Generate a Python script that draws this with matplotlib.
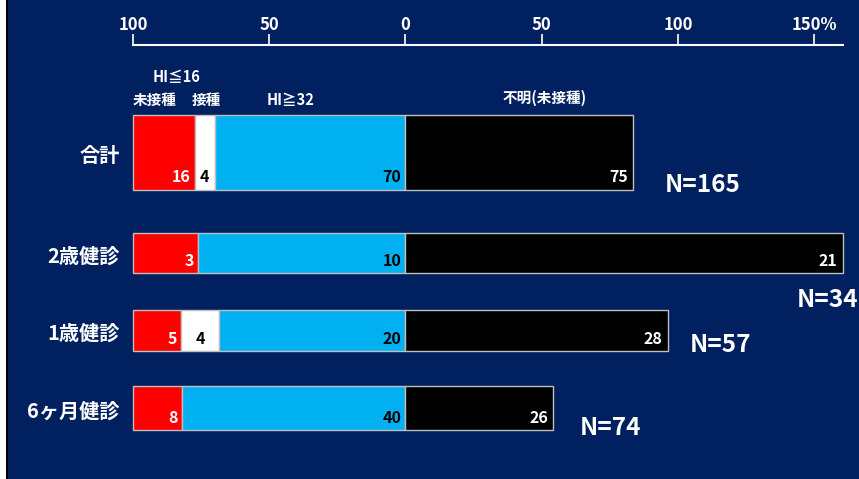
import matplotlib
matplotlib.use("Agg")
import matplotlib.pyplot as plt
from matplotlib.patches import Rectangle
from matplotlib.ticker import FixedLocator, FuncFormatter

plt.rcParams['font.family'] = ['Noto Sans CJK JP', 'DejaVu Sans']
plt.rcParams['font.weight'] = 'bold'

# data: row labels, counts shown in the bars, bar lengths (%)
groups = ["合計", "2歳健診", "1歳健診", "6ヶ月健診"]
totals = [165, 34, 57, 74]
cnt_unvacc = [16, 3, 5, 8]       # 未接種
cnt_low = [4, 0, 4, 0]           # HI≦16 接種
cnt_high = [70, 10, 20, 40]      # HI≧32
cnt_unknown = [75, 21, 28, 26]   # 不明(未接種)
pct_unvacc = [22.7, 23.8, 17.6, 18.0]
pct_low = [7.3, 0.0, 13.9, 0.0]
pct_high = [70.0, 76.2, 68.5, 82.0]
pct_unknown = [83.6, 160.6, 96.4, 54.3]
tick_vals = [-100, -50, 0, 50, 100, 150]

# layout (pixel rows of the 859x479 picture)
row_y = [152, 253, 330, 408]
row_h = [75, 40, 41, 44]
n_xy = [(95, 185), (143.5, 300), (104.5, 345), (64, 428)]

NAVY = "#002060"
RED = "#FF0000"
CYAN = "#00B0F0"
EDGE = "#BFBFBF"

fig = plt.figure(figsize=(8.59, 4.79), dpi=100)
fig.patch.set_facecolor(NAVY)
# left border of the slide
fig.patches.append(Rectangle((0, 0), 6 / 859, 1, transform=fig.transFigure,
                             facecolor="white", edgecolor="none"))
fig.patches.append(Rectangle((6 / 859, 0), 2 / 859, 1, transform=fig.transFigure,
                             facecolor="black", edgecolor="none"))

ax = fig.add_axes([133 / 859, 0, (843 - 133) / 859, (479 - 45) / 479])
ax.set_facecolor(NAVY)
ax.set_xlim(-100, (843 - 405) / 2.728)
ax.set_ylim(479, 45)

for s in ["left", "right", "bottom"]:
    ax.spines[s].set_visible(False)
ax.spines["top"].set_color("white")
ax.spines["top"].set_linewidth(1.5)
ax.xaxis.set_ticks_position("top")
ax.xaxis.set_major_locator(FixedLocator(tick_vals))
ax.xaxis.set_major_formatter(FuncFormatter(
    lambda v, p: f"{abs(v):.0f}%" if v == tick_vals[-1] else f"{abs(v):.0f}"))
ax.tick_params(axis="x", colors="white", direction="out", length=8, width=1.2,
               labelsize=12, pad=0)
for lb in ax.get_xticklabels():
    lb.set_fontweight("bold")
ax.set_yticks([])

for i in range(len(groups)):
    y, h = row_y[i], row_h[i]
    left_red = -100
    left_white = left_red + pct_unvacc[i]
    left_cyan = left_white + pct_low[i]
    kw = dict(height=h, edgecolor=EDGE, linewidth=1, clip_on=False)
    ax.barh(y, pct_unvacc[i], left=left_red, color=RED, **kw)
    if pct_low[i] > 0:
        ax.barh(y, pct_low[i], left=left_white, color="white", **kw)
    ax.barh(y, pct_high[i], left=left_cyan, color=CYAN, **kw)
    ax.barh(y, pct_unknown[i], left=0, color="black", **kw)

    yb = y + h / 2 - 4
    ax.text(left_white - 1.5, yb, str(cnt_unvacc[i]), color="white",
            ha="right", va="bottom", fontsize=11.5, fontweight="bold")
    if pct_low[i] > 0:
        ax.text(left_white + pct_low[i] / 2, yb, str(cnt_low[i]), color="black",
                ha="center", va="bottom", fontsize=11.5, fontweight="bold")
    ax.text(-1.5, yb, str(cnt_high[i]), color="black",
            ha="right", va="bottom", fontsize=11.5, fontweight="bold")
    ax.text(pct_unknown[i] - 2, yb, str(cnt_unknown[i]), color="white",
            ha="right", va="bottom", fontsize=11.5, fontweight="bold")

    ax.text(-105, y + 3, groups[i], color="white", ha="right", va="center",
            fontsize=14.5, fontweight="bold", clip_on=False)
    nx, ny = n_xy[i]
    ax.text(nx, ny, f"N={totals[i]}", color="white", ha="left", va="center",
            fontsize=17.5, fontweight="bold", clip_on=False)

# series headers above the top bar
hdr = dict(color="white", fontsize=10.5, fontweight="bold", va="center", ha="center")
ax.text(-84, 77, "HI≦16", **hdr)
ax.text(-92, 100, "未接種", **hdr)
ax.text(-73, 100, "接種", **hdr)
ax.text(-42, 100, "HI≧32", **hdr)
ax.text(51, 98, "不明(未接種)", **hdr)

fig.savefig("out.png", dpi=100, facecolor=fig.get_facecolor())
